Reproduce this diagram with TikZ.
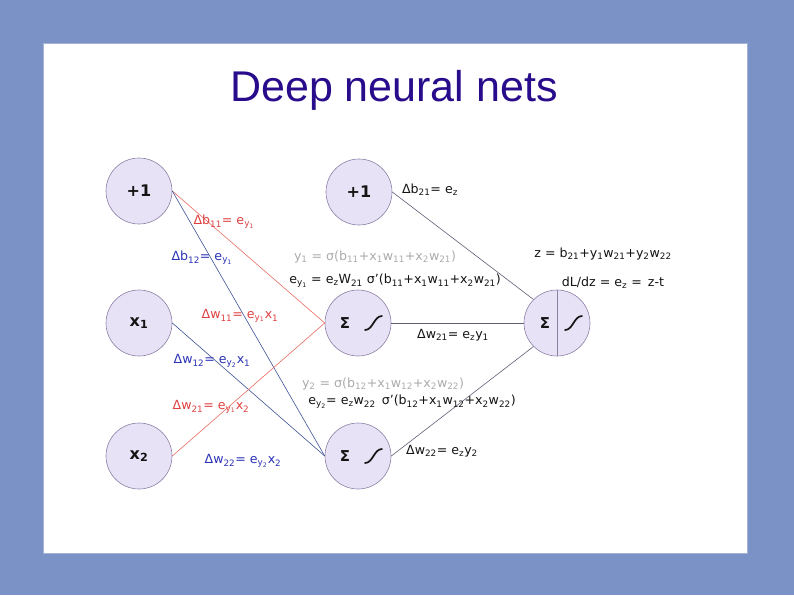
\documentclass[tikz,border=0pt]{standalone}
\usepackage{fontspec}
\setmainfont{DejaVu Sans}
\newfontfamily\titlefont{Liberation Sans}
\newcommand{\lsub}[1]{\textsubscript{#1}}
\definecolor{bgblue}{RGB}{122,146,198}
\definecolor{titleblue}{RGB}{40,12,140}
\definecolor{nodefill}{RGB}{232,226,246}
\definecolor{nodedraw}{RGB}{140,128,165}
\definecolor{lred}{RGB}{222,64,64}
\definecolor{lblue}{RGB}{42,50,182}
\definecolor{ered}{RGB}{232,110,100}
\definecolor{eblue}{RGB}{62,84,150}
\definecolor{egray}{RGB}{96,96,118}
\definecolor{tgray}{RGB}{172,172,172}
\definecolor{tblack}{RGB}{20,20,20}
\begin{document}
\begin{tikzpicture}[x=1pt,y=-1pt,
  neuron/.style={circle,draw=nodedraw,fill=nodefill,minimum size=66pt,inner sep=0pt,line width=0.6pt,
    font=\bfseries\fontsize{16}{18}\selectfont,text=tblack},
  lbl/.style={inner sep=0pt,font=\fontsize{12.6}{14}\selectfont},
  redge/.style={draw=ered,line width=0.6pt},
  bedge/.style={draw=eblue,line width=0.6pt},
  gedge/.style={draw=egray,line width=0.6pt},
  sig/.style={line width=1.7pt,line cap=round,draw=tblack},
  sumtxt/.style={inner sep=0pt,font=\bfseries\fontsize{15}{17}\selectfont,text=tblack}]
\useasboundingbox (0,0) rectangle (794,595);
\fill[bgblue] (0,0) rectangle (794,595);
\fill[white] (43,43) rectangle (747,553);
\draw[bgblue!70!white,line width=0.5pt] (43,43) rectangle (747,553);
\node[text=titleblue,font=\titlefont\fontsize{43}{50}\selectfont] (title) at (394,90) {Deep neural nets};
% neurons
\node[neuron] (b1) at (139,191) {+1};
\node[neuron] (x1) at (139,323) {x\lsub{1}};
\node[neuron] (x2) at (139,456) {x\lsub{2}};
\node[neuron] (b2) at (359,192) {+1};
\node[neuron] (h1) at (358,323) {};
\node[neuron] (h2) at (358,456) {};
\node[neuron] (out) at (557,323) {};
\draw[nodedraw,line width=0.6pt] (out.north) -- (out.south);
% contents
\node[sumtxt] (s1) at (345,323) {Σ};
\node[sumtxt] (s2) at (345,456) {Σ};
\node[sumtxt] (s3) at (545,323) {Σ};
\draw[sig] (365,330) .. controls (373,330) and (374,316) .. (382,316);
\draw[sig] (365,463) .. controls (373,463) and (374,449) .. (382,449);
\draw[sig] (565,330) .. controls (573,330) and (574,316) .. (582,316);
% edges
\draw[redge] (b1.east) -- (h1.west);
\draw[bedge] (b1.east) -- (h2.west);
\draw[bedge] (x1.east) -- (h2.west);
\draw[redge] (x2.east) -- (h1.west);
\draw[gedge] (b2.east) -- (out.north west);
\draw[gedge] (h1.east) -- (out.west);
\draw[gedge] (h2.east) -- (out.south west);
% labels
\node[lbl,text=lred] (l1) at (224,222) {Δb\lsub{11}= e\lsub{y\lsub{1}}};
\node[lbl,text=lblue] (l2) at (202,258) {Δb\lsub{12}= e\lsub{y\lsub{1}}};
\node[lbl,text=tblack] (l3) at (430,190) {Δb\lsub{21}= e\lsub{z}};
\node[lbl,text=tgray] (l4) at (375,257) {y\lsub{1} = σ(b\lsub{11}+x\lsub{1}w\lsub{11}+x\lsub{2}w\lsub{21})};
\node[lbl,text=tblack] (l5) at (395,281) {e\lsub{y\lsub{1}} = e\lsub{z}W\lsub{21} σ'(b\lsub{11}+x\lsub{1}w\lsub{11}+x\lsub{2}w\lsub{21})};
\node[lbl,text=tblack] (l6) at (603,254) {z = b\lsub{21}+y\lsub{1}w\lsub{21}+y\lsub{2}w\lsub{22}};
\node[lbl,text=tblack] (l7) at (613,283) {dL/dz = e\lsub{z} =\, z-t};
\node[lbl,text=tblack] (l8) at (453,335) {Δw\lsub{21}= e\lsub{z}y\lsub{1}};
\node[lbl,text=lred] (l9) at (240,316) {Δw\lsub{11}= e\lsub{y\lsub{1}}x\lsub{1}};
\node[lbl,text=lblue] (l10) at (212,361) {Δw\lsub{12}= e\lsub{y\lsub{2}}x\lsub{1}};
\node[lbl,text=tgray] (l11) at (383,384) {y\lsub{2} = σ(b\lsub{12}+x\lsub{1}w\lsub{12}+x\lsub{2}w\lsub{22})};
\node[lbl,text=tblack] (l12) at (412,402) {e\lsub{y\lsub{2}}= e\lsub{z}w\lsub{22}\, σ'(b\lsub{12}+x\lsub{1}w\lsub{12}+x\lsub{2}w\lsub{22})};
\node[lbl,text=lred] (l13) at (211,407) {Δw\lsub{21}= e\lsub{y\lsub{1}}x\lsub{2}};
\node[lbl,text=lblue] (l14) at (243,461) {Δw\lsub{22}= e\lsub{y\lsub{2}}x\lsub{2}};
\node[lbl,text=tblack] (l15) at (442,451) {Δw\lsub{22}= e\lsub{z}y\lsub{2}};
\end{tikzpicture}
\end{document}
